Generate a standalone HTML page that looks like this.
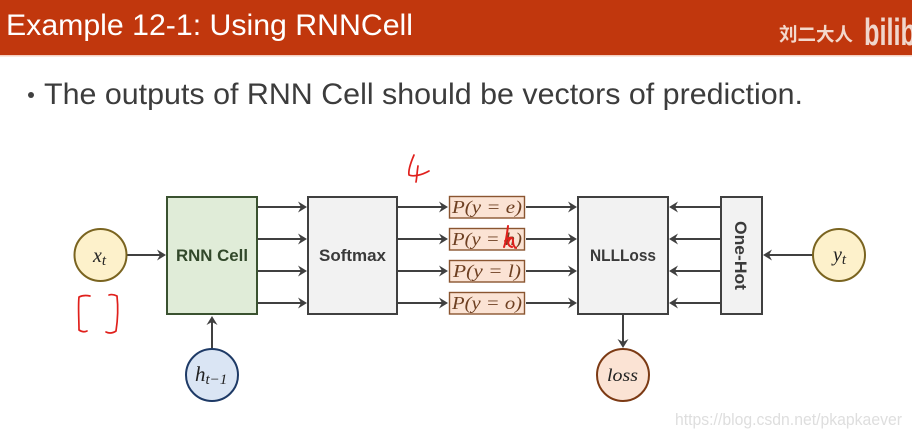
<!DOCTYPE html>
<html>
<head>
<meta charset="utf-8">
<style>
html,body{margin:0;padding:0;background:#fff;width:912px;height:437px;overflow:hidden}
svg{display:block;filter:blur(0.35px)}
.s{font-family:"Liberation Sans",sans-serif}
.m{font-family:"Liberation Serif",serif;font-style:italic;fill:#222}
.l{stroke:#404040;stroke-width:2;fill:none}
.p{font-family:"Liberation Serif",serif;font-style:italic;font-size:18px;fill:#6e4022}
.b{font-family:"Liberation Sans",sans-serif;font-weight:bold;font-size:16.5px;fill:#3a3a3a}
.r{stroke:#e0201c;stroke-width:1.7;fill:none;stroke-linecap:round;stroke-linejoin:round}
</style>
</head>
<body>
<svg width="912" height="437" viewBox="0 0 912 437" xmlns="http://www.w3.org/2000/svg">
<defs>
<path id="ar" d="M-9,-5.5 L0,0 L-9,5.5 L-6,0 Z" fill="#404040"/>
</defs>
<rect width="912" height="437" fill="#fff"/>
<rect width="912" height="55" fill="#c1370d"/>
<rect y="55" width="912" height="1.5" fill="#f4cfc0"/>
<text class="s" x="6" y="35" font-size="29.5" fill="#fff" textLength="407" lengthAdjust="spacingAndGlyphs">Example 12-1: Using RNNCell</text>
<text x="779" y="41" font-family="'Liberation Sans','Noto Sans CJK SC',sans-serif" font-size="18.5" font-weight="bold" fill="#f3d8cc" textLength="74" lengthAdjust="spacingAndGlyphs">刘二大人</text>
<text class="s" x="864" y="45" font-size="38" font-weight="bold" fill="#f0d6cc" textLength="52" lengthAdjust="spacingAndGlyphs">bilib</text>
<circle cx="31" cy="95" r="3" fill="#404040"/>
<text class="s" x="44" y="104" font-size="30" fill="#3c3c3c" textLength="759" lengthAdjust="spacingAndGlyphs">The outputs of RNN Cell should be vectors of prediction.</text>

<!-- connectors -->
<g class="l">
<path d="M127,255H164"/>
<path d="M212,349V318"/>
<path d="M257,207H304M257,239H304M257,271H304M257,303H304"/>
<path d="M397,207H446M397,239H446M397,271H446M397,303H446"/>
<path d="M526,207H575M526,239H575M526,271H575M526,303H575"/>
<path d="M720,207H672M720,239H672M720,271H672M720,303H672"/>
<path d="M813,255H766"/>
<path d="M623,314V345"/>
</g>
<g>
<use href="#ar" transform="translate(166,255)"/>
<use href="#ar" transform="translate(212,316) rotate(-90)"/>
<use href="#ar" transform="translate(307,207)"/><use href="#ar" transform="translate(307,239)"/><use href="#ar" transform="translate(307,271)"/><use href="#ar" transform="translate(307,303)"/>
<use href="#ar" transform="translate(448,207)"/><use href="#ar" transform="translate(448,239)"/><use href="#ar" transform="translate(448,271)"/><use href="#ar" transform="translate(448,303)"/>
<use href="#ar" transform="translate(577,207)"/><use href="#ar" transform="translate(577,239)"/><use href="#ar" transform="translate(577,271)"/><use href="#ar" transform="translate(577,303)"/>
<use href="#ar" transform="translate(669,207) rotate(180)"/><use href="#ar" transform="translate(669,239) rotate(180)"/><use href="#ar" transform="translate(669,271) rotate(180)"/><use href="#ar" transform="translate(669,303) rotate(180)"/>
<use href="#ar" transform="translate(763,255) rotate(180)"/>
<use href="#ar" transform="translate(623,348) rotate(90)"/>
</g>

<!-- boxes -->
<rect x="167" y="197" width="90" height="117" fill="#e0ecd8" stroke="#3a5230" stroke-width="2"/>
<text x="212" y="261" text-anchor="middle" class="b" style="fill:#32482a" textLength="72" lengthAdjust="spacingAndGlyphs">RNN Cell</text>
<rect x="308" y="197" width="89" height="117" fill="#f2f2f2" stroke="#404040" stroke-width="2"/>
<text x="352.5" y="261" text-anchor="middle" class="b" textLength="67" lengthAdjust="spacingAndGlyphs">Softmax</text>
<rect x="578" y="197" width="90" height="117" fill="#f2f2f2" stroke="#404040" stroke-width="2"/>
<text x="623" y="261" text-anchor="middle" class="b" textLength="66" lengthAdjust="spacingAndGlyphs">NLLLoss</text>
<rect x="721" y="197" width="41" height="117" fill="#f2f2f2" stroke="#404040" stroke-width="2"/>
<text transform="translate(735,255.5) rotate(90)" text-anchor="middle" class="b" textLength="69" lengthAdjust="spacingAndGlyphs">One-Hot</text>

<!-- prob boxes -->
<g fill="#fbe3d4" stroke="#8a5530" stroke-width="1.4">
<rect x="449.5" y="196.5" width="75" height="21.5"/>
<rect x="449.5" y="228.5" width="75" height="21.5"/>
<rect x="449.5" y="260.5" width="75" height="21.5"/>
<rect x="449.5" y="292.5" width="75" height="21.5"/>
</g>
<text class="p" x="452" y="213" textLength="70" lengthAdjust="spacingAndGlyphs">P(y = e)</text>
<text class="p" x="452" y="245" textLength="70" lengthAdjust="spacingAndGlyphs">P(y = h)</text>
<text class="p" x="453" y="277" textLength="68" lengthAdjust="spacingAndGlyphs">P(y = l)</text>
<text class="p" x="452" y="309" textLength="70" lengthAdjust="spacingAndGlyphs">P(y = o)</text>

<!-- circles -->
<circle cx="100.5" cy="255" r="26" fill="#fdf1cb" stroke="#7a6420" stroke-width="2"/>
<text class="m" x="93" y="262" font-size="20">x<tspan font-size="15" dy="3">t</tspan></text>
<circle cx="212" cy="375" r="26" fill="#dae5f4" stroke="#1e3a66" stroke-width="2"/>
<text class="m" x="195" y="381" font-size="21">h<tspan font-size="15" dy="3">t−1</tspan></text>
<circle cx="623" cy="375" r="26" fill="#fbe3d4" stroke="#7c3a14" stroke-width="2"/>
<text class="m" x="607" y="381" font-size="18" textLength="31" lengthAdjust="spacingAndGlyphs">loss</text>
<circle cx="839" cy="255" r="26" fill="#fdf1cb" stroke="#7a6420" stroke-width="2"/>
<text class="m" x="833" y="261" font-size="20">y<tspan font-size="15" dy="3">t</tspan></text>

<!-- red handwriting -->
<path class="r" d="M414,155 C411,162 408,170 409,175 C413,177 422,175 429,171"/>
<path class="r" d="M418,166 C417,172 417,177 416,182"/>
<path class="r" d="M90,296 C85,295 81,296 79,297 C78,306 79,320 79,330 C82,332 85,332 87,331"/>
<path class="r" d="M109,295 C112,294 115,295 117,296 C118,305 118,318 116,331 C113,333 110,334 106,332"/>
<path class="r" style="stroke-width:2" d="M508,226 C507,234 506,242 504,247 M505,241 C509,236 513,237 513,241 C513,245 514,247 516,248 M510,239 C507,242 508,246 512,247"/>

<text x="675" y="425" font-family="'Liberation Sans',sans-serif" font-size="17" fill="#dedede" textLength="227" lengthAdjust="spacingAndGlyphs">https://blog.csdn.net/pkapkaever</text>
</svg>
</body>
</html>
